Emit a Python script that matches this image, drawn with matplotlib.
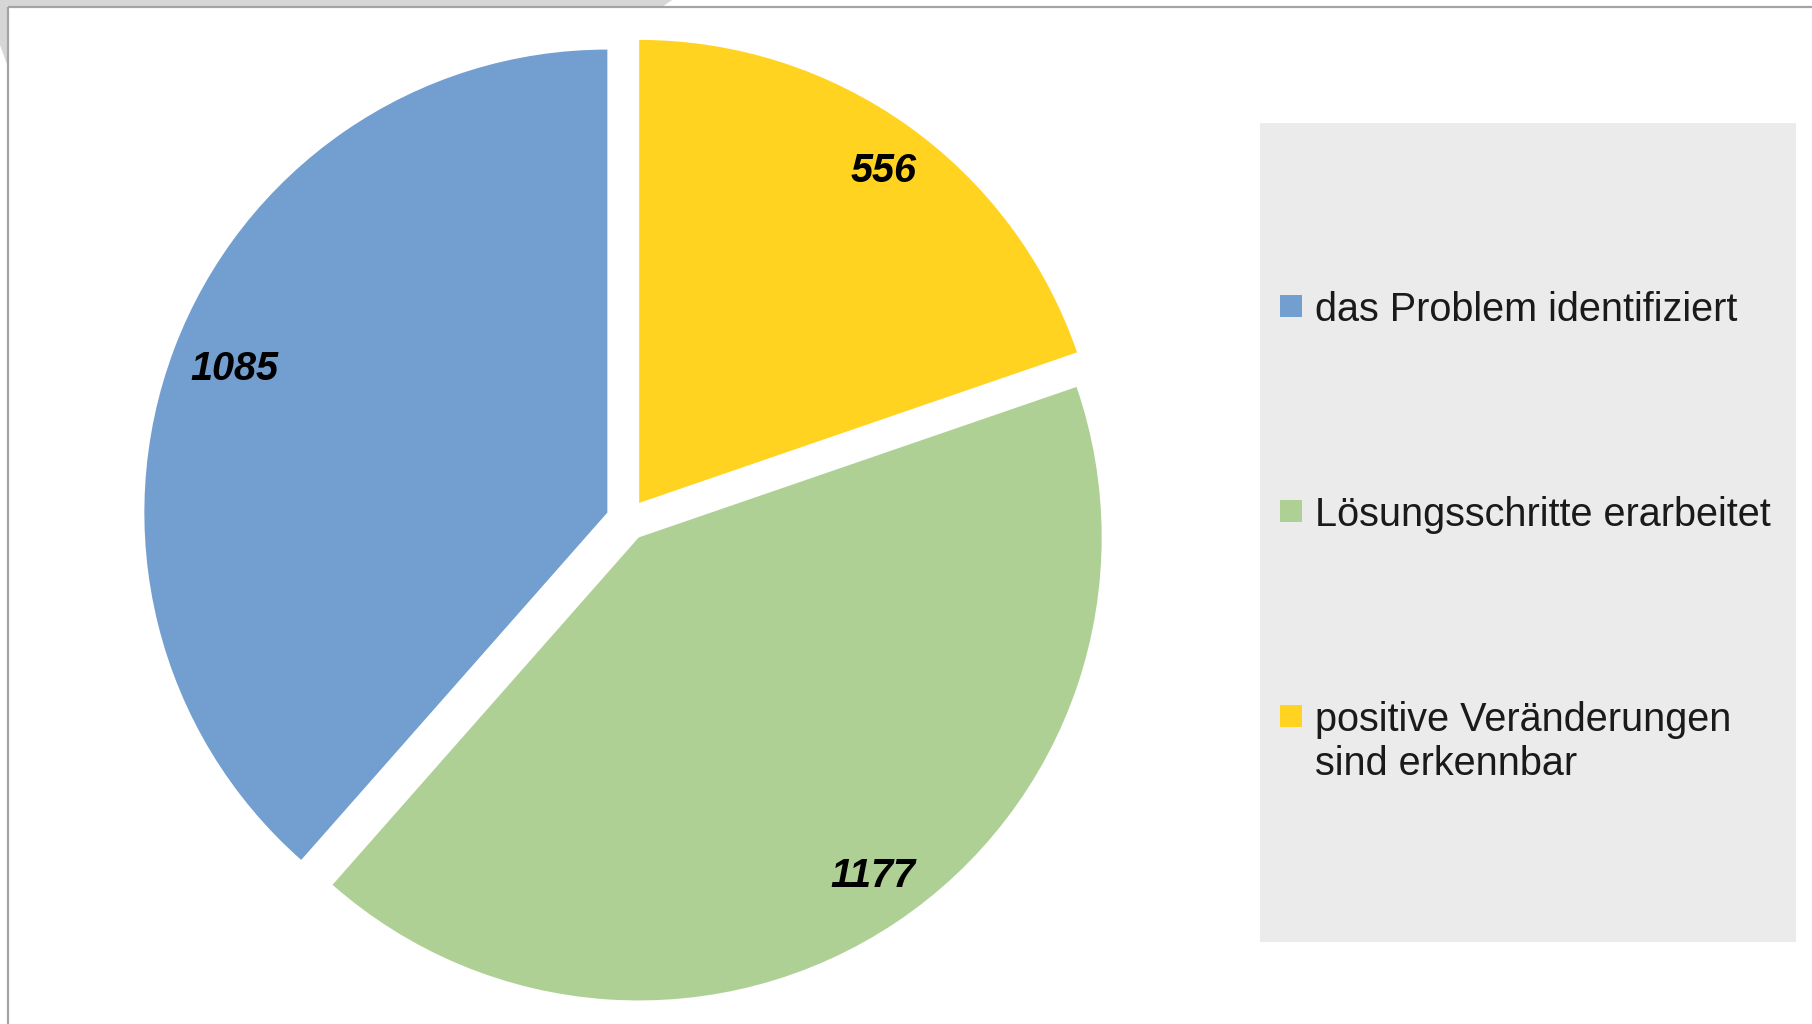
import matplotlib
matplotlib.use('Agg')
import matplotlib.pyplot as plt
from matplotlib.patches import Rectangle, Polygon

categories = ['das Problem identifiziert', 'Lösungsschritte erarbeitet',
              'positive Veränderungen\nsind erkennbar']
values = [1085, 1177, 556]
colors = ['#729fcf', '#afd095', '#ffd320']

W, H = 1812, 1024
plt.rcParams['font.family'] = ['Liberation Sans', 'DejaVu Sans']

fig = plt.figure(figsize=(W / 100, H / 100), dpi=100)
ax = fig.add_axes([0, 0, 1, 1])

total = sum(values)
wedges, texts, autotexts = ax.pie(
    values, colors=colors, startangle=90, radius=463, center=(627, H - 520),
    explode=[21] * len(values),
    autopct=lambda p: f'{round(p * total / 100)}', pctdistance=0.88,
    wedgeprops=dict(linewidth=0),
    textprops=dict(fontsize=28.5, fontweight='bold', fontstyle='italic', color='black'))
# nudge the value labels a little to the right like the original
for t in autotexts:
    x, y = t.get_position()
    t.set_position((x + 8, y))

ax.set_xlim(0, W)
ax.set_ylim(0, H)
ax.set_aspect('equal')
ax.axis('off')

# screenshot frame: grey corner + border lines
ax.add_patch(Polygon([(0, H), (672, H), (662, H - 7), (0, H - 7)], fc='#d6d6d6', ec='none'))
ax.add_patch(Polygon([(0, H), (8, H), (8, H - 67), (0, H - 45)], fc='#d6d6d6', ec='none'))
ax.plot([8, W], [H - 7, H - 7], color='#a4a4a4', lw=1.6, solid_capstyle='butt')
ax.plot([8, 8], [0, H - 7], color='#a4a4a4', lw=1.6, solid_capstyle='butt')

# legend panel
ax.add_patch(Rectangle((1260, H - 942), 536, 819, fc='#ebebeb', ec='none', zorder=0))
for i, (lab, col) in enumerate(zip(categories, colors)):
    yc = H - (306 + i * 205)
    ax.add_patch(Rectangle((1280, yc - 11), 22, 22, fc=col, ec='none'))
    ax.text(1315, yc + 15, lab, fontsize=28.5, color='#1a1a1a', va='top',
            ha='left', linespacing=1.2)

fig.savefig('out.png', dpi=100)
